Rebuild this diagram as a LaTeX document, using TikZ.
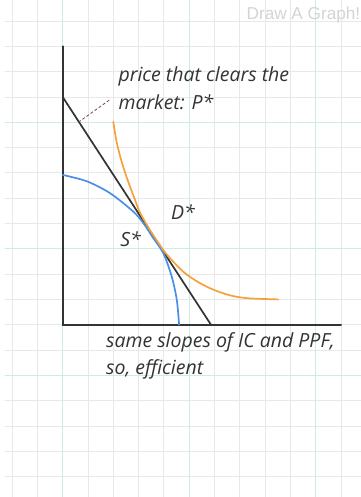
\documentclass[tikz,border=0pt]{standalone}
\usepackage{fontspec}
\setmainfont{Open Sans}
\newfontfamily\logofont{Liberation Sans}
\definecolor{gridgray}{HTML}{E8E8E8}
\definecolor{gridteal}{HTML}{CFEBE6}
\definecolor{axisgray}{HTML}{333333}
\definecolor{ppfblue}{HTML}{4A8FE7}
\definecolor{icorange}{HTML}{F5A23E}
\definecolor{leaderred}{HTML}{7A4550}

\begin{document}
\begin{tikzpicture}[x=0.89cm, y=0.89cm, line cap=round,
  note/.style={font=\fontsize{19.5}{22}\selectfont\itshape, text=axisgray, inner sep=0pt, anchor=base west}]
\useasboundingbox (-2.478,-6.81) rectangle (11.79,12.834);
\fill[white] (-2.478,-6.81) rectangle (11.79,12.834);

% grid
\foreach \x in {-2,...,11}
  \draw[gridgray, line width=0.8pt] (\x,-6.81) -- (\x,12.834);
\foreach \y in {-6,...,12}
  \draw[gridgray, line width=0.8pt] (-2.28,\y) -- (11.79,\y);
\foreach \x in {0,5,10}
  \draw[gridteal, line width=0.8pt] (\x,-6.81) -- (\x,12.834);
\foreach \y in {-2,3,8}
  \draw[gridteal, line width=0.8pt] (-2.28,\y) -- (11.79,\y);

\node[font=\logofont\fontsize{17.2}{19}\selectfont, text=black!17, inner sep=0pt, anchor=base east] (logo) at (11.77,12.08) {Draw A Graph!};

% axes and price line
\coordinate (O) at (0,0);
\coordinate (ytop) at (0,11);
\coordinate (xend) at (11,0);
\coordinate (pa) at (0,9);
\coordinate (pb) at (5.86,0);
\draw[axisgray, line width=2pt] (ytop) -- (O) -- (xend);
\draw[axisgray, line width=1.7pt] (pa) -- (pb);

% PPF and IC
\draw[ppfblue, line width=1.7pt] plot[smooth] coordinates {(0,5.92) (0.95,5.67) (1.87,5.2) (2.79,4.47) (3.19,4.01) (3.58,3.42) (3.98,2.82) (4.31,1.9) (4.51,0.98) (4.6,0)};
\draw[icorange, line width=1.7pt] plot[smooth] coordinates {(2.0,8.02) (2.13,7.23) (2.33,6.44) (2.59,5.65) (2.86,4.93) (3.06,4.42) (3.45,3.74) (3.78,3.24) (4.11,2.78) (4.77,2.09) (5.43,1.64) (6.09,1.33) (6.74,1.13) (7.40,1.04) (8.52,1.00)};

% labels
\node[note] (price) at (2.2,9.63) {price that clears the};
\node[note] (market) at (2.2,8.49) {market: P*};
\node[note] (dstar) at (4.28,4.15) {D*};
\node[note] (sstar) at (2.27,3.08) {S*};
\node[note] (slopes) at (1.71,-0.9) {same slopes of IC and PPF,};
\node[note] (effic) at (1.71,-1.98) {so, efficient};

\coordinate (pfoot) at (0.62,8.0);
\coordinate (ptip) at (1.9,8.92);
\draw[leaderred, line width=0.8pt, line cap=butt, dash pattern=on 3pt off 2pt] (pfoot) -- (ptip);
\end{tikzpicture}
\end{document}
